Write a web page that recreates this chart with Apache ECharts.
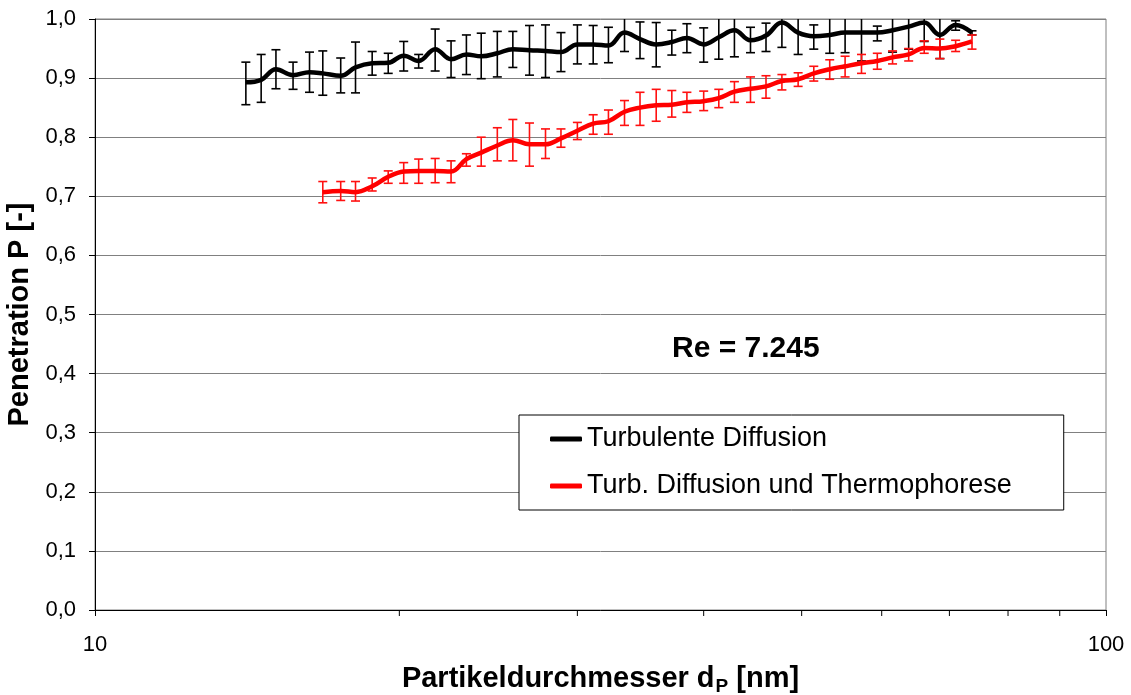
<!DOCTYPE html>
<html>
<head>
<meta charset="utf-8">
<script src="https://cdn.jsdelivr.net/npm/echarts@6/dist/echarts.min.js"></script>
<style>
html,body{margin:0;padding:0;background:#fff;}
#chart{width:1131px;height:695px;}
</style>
</head>
<body>
<div id="chart"></div>
<script>
// Particle diameters (SMPS channel midpoints, nm)
const diameters = [14.1,14.6,15.1,15.7,16.3,16.8,17.5,18.1,18.8,19.5,20.2,20.9,21.7,22.5,23.3,24.1,25.0,25.9,26.9,27.9,28.9,30.0,31.1,32.2,33.4,34.6,35.9,37.2,38.5,40.0,41.4,42.9,44.5,46.1,47.8,49.6,51.4,53.3,55.2,57.3,59.4,61.5,63.8,66.1,68.5,71.0,73.7];

// Turbulente Diffusion
const turbMean  = [0.893,0.897,0.915,0.905,0.910,0.908,0.904,0.918,0.925,0.926,0.938,0.929,0.949,0.932,0.940,0.937,0.942,0.949,0.947,0.946,0.944,0.957,0.957,0.955,0.977,0.966,0.957,0.961,0.968,0.957,0.969,0.981,0.964,0.972,0.994,0.977,0.971,0.973,0.977,0.977,0.977,0.981,0.987,0.994,0.973,0.990,0.977];
const turbUpper = [0.927,0.940,0.948,0.927,0.944,0.946,0.934,0.961,0.945,0.942,0.962,0.940,0.983,0.963,0.973,0.976,0.979,0.979,0.989,0.990,0.977,0.990,0.989,0.986,1.009,0.995,0.994,0.981,0.992,0.985,1.006,1.026,0.986,0.993,1.036,1.014,0.990,1.004,1.011,1.025,0.988,1.018,1.025,1.026,1.013,0.997,0.980];
const turbLower = [0.855,0.859,0.882,0.881,0.876,0.871,0.875,0.875,0.905,0.908,0.912,0.917,0.912,0.901,0.906,0.899,0.902,0.918,0.905,0.901,0.911,0.924,0.924,0.926,0.945,0.933,0.919,0.939,0.943,0.927,0.932,0.936,0.943,0.945,0.952,0.940,0.949,0.942,0.943,0.929,0.963,0.944,0.949,0.962,0.933,0.981,0.973];

// Turb. Diffusion und Thermophorese (starts at 16.8 nm)
const thermoDiameters = diameters.slice(5);
const thermoMean  = [0.707,0.709,0.707,0.717,0.733,0.742,0.743,0.743,0.742,0.763,0.774,0.786,0.795,0.788,0.788,0.798,0.811,0.823,0.827,0.843,0.850,0.854,0.855,0.859,0.861,0.866,0.877,0.882,0.886,0.895,0.898,0.908,0.915,0.920,0.925,0.929,0.935,0.940,0.951,0.950,0.954,0.962];
const thermoUpper = [0.725,0.725,0.725,0.731,0.743,0.757,0.763,0.764,0.760,0.772,0.800,0.816,0.830,0.824,0.814,0.814,0.825,0.838,0.846,0.862,0.876,0.881,0.879,0.876,0.878,0.881,0.894,0.902,0.904,0.906,0.909,0.920,0.931,0.937,0.940,0.942,0.946,0.950,0.963,0.966,0.964,0.973];
const thermoLower = [0.689,0.693,0.692,0.709,0.722,0.722,0.722,0.723,0.723,0.751,0.751,0.760,0.760,0.751,0.764,0.783,0.796,0.805,0.805,0.820,0.820,0.827,0.834,0.842,0.845,0.850,0.859,0.859,0.866,0.880,0.886,0.895,0.898,0.902,0.908,0.915,0.924,0.929,0.942,0.933,0.945,0.949];

const xMinorTicks = [20,30,40,50,60,70,80,90];
const seriesNames = ['Turbulente Diffusion','Turb. Diffusion und Thermophorese'];

const FONT = '"Liberation Sans", Arial, Helvetica, sans-serif';

function errRender(color){
  return function(params, api){
    const x = api.value(0), lo = api.value(1), hi = api.value(2);
    const p1 = api.coord([x, lo]), p2 = api.coord([x, hi]);
    const w = 4.5;
    const st = {stroke: color, lineWidth: 1.6};
    return {type:'group', children:[
      {type:'line', shape:{x1:p1[0],y1:p1[1],x2:p2[0],y2:p2[1]}, style:st},
      {type:'line', shape:{x1:p1[0]-w,y1:p1[1],x2:p1[0]+w,y2:p1[1]}, style:st},
      {type:'line', shape:{x1:p2[0]-w,y1:p2[1],x2:p2[0]+w,y2:p2[1]}, style:st}
    ]};
  };
}

const chart = echarts.init(document.getElementById('chart'), null, {renderer:'canvas'});
chart.setOption({
  animation:false,
  backgroundColor:'#ffffff',
  textStyle:{fontFamily:FONT},
  title:{
    text:'Re = 7.245', left:672, top:334, padding:0,
    textStyle:{fontFamily:FONT, fontSize:30, fontWeight:'bold', color:'#000'}
  },
  grid:{left:95, right:25, top:19, bottom:85, show:true, borderColor:'#808080', borderWidth:1, backgroundColor:'#fff',
    containLabel:false, outerBoundsMode:'none'},
  legend:{
    data:seriesNames, orient:'vertical', left:519, top:415,
    padding:[9,52,9,31], itemGap:17, itemWidth:32, itemHeight:5,
    icon:'roundRect', borderColor:'#000', borderWidth:1, backgroundColor:'#fff',
    textStyle:{fontFamily:FONT, fontSize:27, color:'#000', lineHeight:30}
  },
  xAxis:{
    type:'log', logBase:10, min:10, max:100,
    name:'{b|Partikeldurchmesser d}{s|P}{b| [nm]}', nameLocation:'middle', nameGap:52,
    nameTextStyle:{rich:{
      b:{fontFamily:FONT, fontSize:29, fontWeight:'bold', color:'#000', lineHeight:34},
      s:{fontFamily:FONT, fontSize:19, fontWeight:'bold', color:'#000', lineHeight:34, verticalAlign:'bottom', padding:[0,0,0,1]}
    }},
    axisLine:{show:true, lineStyle:{color:'#000', width:1}},
    axisTick:{show:true, length:6, inside:false, lineStyle:{color:'#000'}},
    axisLabel:{fontFamily:FONT, fontSize:22, color:'#000', margin:24, showMinLabel:true, showMaxLabel:true},
    splitLine:{show:false}, minorTick:{show:false}
  },
  yAxis:{
    type:'value', min:0, max:1, interval:0.1,
    name:'Penetration P [-]', nameLocation:'middle', nameGap:50,
    nameTextStyle:{fontFamily:FONT, fontSize:29, fontWeight:'bold', color:'#000'},
    axisLine:{show:true, lineStyle:{color:'#000', width:1}},
    axisTick:{show:true, length:6, inside:false, lineStyle:{color:'#000'}},
    axisLabel:{fontFamily:FONT, fontSize:22, color:'#000', margin:19,
      formatter:function(v){return v.toFixed(1).replace('.', ',');}},
    splitLine:{show:true, lineStyle:{color:'#808080', width:1}}
  },
  series:[
    {type:'custom', name:'errT', silent:true, clip:true, z:2,
      data:diameters.map((d,i)=>[d, turbLower[i], turbUpper[i]]),
      renderItem:errRender('#000000')},
    {type:'custom', name:'errR', silent:true, clip:true, z:2,
      data:thermoDiameters.map((d,i)=>[d, thermoLower[i], thermoUpper[i]]),
      renderItem:errRender('#ff1010')},
    {type:'line', name:seriesNames[1], z:4, smooth:0.4, showSymbol:false, symbol:'none',
      data:thermoDiameters.map((d,i)=>[d, thermoMean[i]]),
      lineStyle:{color:'#ff0000', width:4.5}, itemStyle:{color:'#ff0000'}},
    {type:'line', name:seriesNames[0], z:5, smooth:0.4, showSymbol:false, symbol:'none',
      data:diameters.map((d,i)=>[d, turbMean[i]]),
      lineStyle:{color:'#000000', width:4.5}, itemStyle:{color:'#000000'}},
    {type:'custom', name:'minorTicks', silent:true, clip:false, z:6,
      data:xMinorTicks.map(v=>[v, 0]),
      renderItem:function(params, api){
        const p = api.coord([api.value(0), 0]);
        return {type:'line', shape:{x1:p[0], y1:p[1], x2:p[0], y2:p[1]+6}, style:{stroke:'#000', lineWidth:1}};
      }}
  ]
});
</script>
</body>
</html>
